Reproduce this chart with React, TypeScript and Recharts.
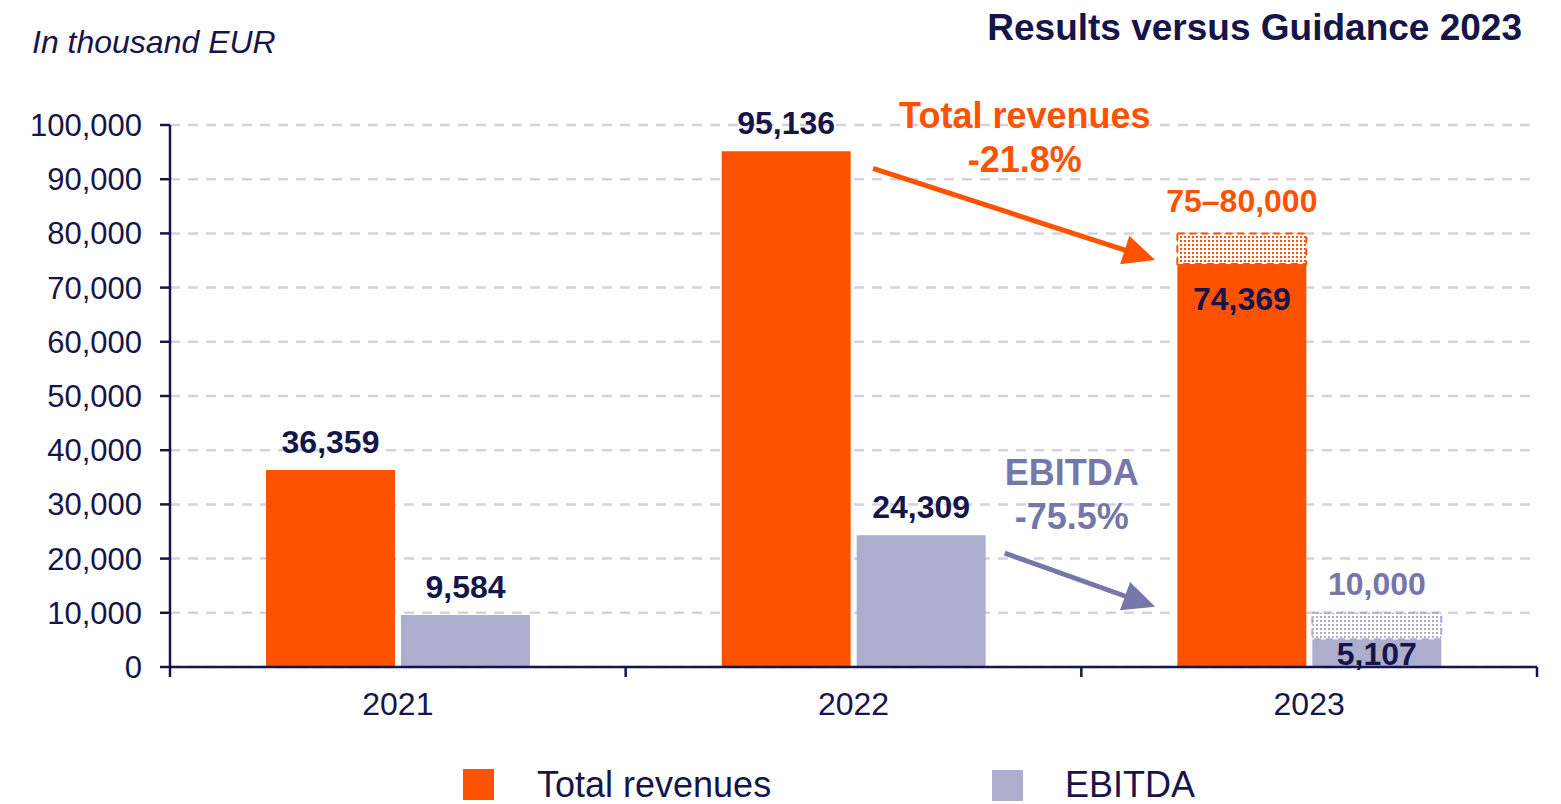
import {
  Bar,
  BarChart,
  CartesianGrid,
  LabelList,
  ReferenceLine,
  XAxis,
  YAxis,
} from "recharts";

const YEARS = ["2021", "2022", "2023"];
const REVENUES = [36359, 95136, 74369];
const EBITDA = [9584, 24309, 5107];
// upper end of the 2023 guidance range (0 = no guidance shown)
const REV_GUIDANCE = [0, 0, 80000];
const EBITDA_GUIDANCE = [0, 0, 10000];
const REV_GUIDANCE_LABELS = ["", "", "75–80,000"];
const EBITDA_GUIDANCE_LABELS = ["", "", "10,000"];
const Y_TICKS = [0, 10000, 20000, 30000, 40000, 50000, 60000, 70000, 80000, 90000, 100000];

// annotation positions: x in category units (2021 spans 0..1, 2022 1..2, 2023 2..3), y in EUR k
const REV_ARROW = { from: [1.543, 92000], to: [2.162, 75100] };
const EBITDA_ARROW = { from: [1.832, 21000], to: [2.162, 11100] };
const REV_NOTE = { at: [1.876, 99400], lines: ["Total revenues", "-21.8%"] };
const EBITDA_NOTE = { at: [1.979, 33600], lines: ["EBITDA", "-75.5%"] };

const NAVY = "#15154a";
const ORANGE = "#ff5200";
const LAVENDER = "#adadcd";
const PURPLE = "#7676a9";
const FONT = '"Liberation Sans", Arial, Helvetica, sans-serif';

const rows = YEARS.map((year, i) => ({
  year,
  rev: REVENUES[i],
  revGap: REV_GUIDANCE[i] ? REV_GUIDANCE[i] - REVENUES[i] : 0,
  revLabel: REV_GUIDANCE_LABELS[i],
  ebitda: EBITDA[i],
  ebitdaGap: EBITDA_GUIDANCE[i] ? EBITDA_GUIDANCE[i] - EBITDA[i] : 0,
  ebitdaLabel: EBITDA_GUIDANCE_LABELS[i],
}));

const fmt = (v: number) => v.toLocaleString("en-US");

// value label: above the bar, or inside when a guidance band sits on top
const valueLabel = (inside: "top" | "bottom") => (p: any) => {
  const { x, y, width, height, index, value } = p;
  let ty = y - 17;
  if (index === 2) ty = inside === "top" ? y + 46 : y + height - 2;
  return (
    <text
      x={x + width / 2}
      y={ty}
      textAnchor="middle"
      fill={NAVY}
      fontFamily={FONT}
      fontSize={32}
      fontWeight="bold"
    >
      {fmt(value)}
    </text>
  );
};

const guidanceLabel = (color: string, lift: number) => (p: any) => {
  const { x, y, width, value } = p;
  if (!value) return null;
  return (
    <text
      x={x + width / 2}
      y={y - lift}
      textAnchor="middle"
      fill={color}
      fontFamily={FONT}
      fontSize={32}
      fontWeight="bold"
    >
      {value}
    </text>
  );
};

// the reference segments run from the 2022 centre (1.5) to the 2023 centre (2.5)
const toPx = (x1: number, x2: number, pos: number) => x1 + (pos - 1.5) * (x2 - x1);

const arrow = (color: string, a: { from: number[]; to: number[] }) => (p: any) => {
  const sx = toPx(p.x1, p.x2, a.from[0]);
  const ex = toPx(p.x1, p.x2, a.to[0]);
  const sy = p.y1;
  const ey = p.y2;
  const dx = ex - sx;
  const dy = ey - sy;
  const len = Math.sqrt(dx * dx + dy * dy);
  const ux = dx / len;
  const uy = dy / len;
  const head = 32;
  const half = 15;
  const bx = ex - ux * head;
  const by = ey - uy * head;
  return (
    <g>
      <line x1={sx} y1={sy} x2={bx + ux * 2} y2={by + uy * 2} stroke={color} strokeWidth={5} />
      <polygon
        points={`${ex},${ey} ${bx - uy * half},${by + ux * half} ${bx + uy * half},${by - ux * half}`}
        fill={color}
      />
    </g>
  );
};

const note = (color: string, n: { at: number[]; lines: string[] }) => (p: any) => {
  const cx = toPx(p.x1, p.x2, n.at[0]);
  return (
    <text
      x={cx}
      y={p.y1}
      textAnchor="middle"
      fill={color}
      fontFamily={FONT}
      fontSize={36}
      fontWeight="bold"
    >
      {n.lines.map((l, i) => (
        <tspan key={l} x={cx} dy={i === 0 ? 0 : 44}>
          {l}
        </tspan>
      ))}
    </text>
  );
};

// year label in the band centre, tick marks on the band borders
const XTick = (p: any) => {
  const { x, y, payload, index, width } = p;
  const band = (width || 1367) / YEARS.length;
  const left = x - band / 2;
  return (
    <g>
      <line x1={left} y1={y} x2={left} y2={y + 10} stroke={NAVY} strokeWidth={2.5} />
      {index === YEARS.length - 1 && (
        <line x1={left + band} y1={y} x2={left + band} y2={y + 10} stroke={NAVY} strokeWidth={2.5} />
      )}
      <text x={x} y={y + 48} textAnchor="middle" fill={NAVY} fontFamily={FONT} fontSize={32}>
        {payload.value}
      </text>
    </g>
  );
};

export default function App() {
  return (
    <div
      style={{
        position: "absolute",
        left: 0,
        top: 0,
        width: 1561,
        height: 804,
        overflow: "hidden",
        background: "#fff",
      }}
    >
      <BarChart
        width={1561}
        height={804}
        data={rows}
        margin={{ top: 125, right: 24, left: 0, bottom: 77 }}
        barSize={129}
        barGap={6}
      >
        <defs>
          <pattern id="revDots" width="4" height="4" patternUnits="userSpaceOnUse">
            <rect width="4" height="4" fill="#fff" />
            <rect width="2" height="2" fill={ORANGE} />
          </pattern>
          <pattern id="ebitdaDots" width="4" height="4" patternUnits="userSpaceOnUse">
            <rect width="4" height="4" fill="#fff" />
            <rect width="2" height="2" fill={LAVENDER} />
          </pattern>
        </defs>
        <CartesianGrid vertical={false} stroke="#d3d3de" strokeWidth={2.5} strokeDasharray="10 8" />
        <XAxis
          dataKey="year"
          interval={0}
          height={60}
          tickSize={0}
          tickMargin={0}
          tickLine={false}
          axisLine={{ stroke: NAVY, strokeWidth: 2.5 }}
          tick={<XTick />}
        />
        <YAxis
          domain={[0, 100000]}
          ticks={Y_TICKS}
          interval={0}
          width={170}
          tickFormatter={fmt}
          tickSize={10}
          tickMargin={18}
          tick={{ fill: NAVY, fontSize: 31, fontFamily: FONT }}
          axisLine={{ stroke: NAVY, strokeWidth: 2.5 }}
          tickLine={{ stroke: NAVY, strokeWidth: 2.5 }}
        />
        <Bar dataKey="rev" stackId="rev" fill={ORANGE} isAnimationActive={false}>
          <LabelList dataKey="rev" content={valueLabel("top")} />
        </Bar>
        <Bar
          dataKey="revGap"
          stackId="rev"
          fill="url(#revDots)"
          stroke={ORANGE}
          strokeWidth={2}
          strokeDasharray="7 5"
          isAnimationActive={false}
        >
          <LabelList dataKey="revLabel" content={guidanceLabel(ORANGE, 21)} />
        </Bar>
        <Bar dataKey="ebitda" stackId="eb" fill={LAVENDER} isAnimationActive={false}>
          <LabelList dataKey="ebitda" content={valueLabel("bottom")} />
        </Bar>
        <Bar
          dataKey="ebitdaGap"
          stackId="eb"
          fill="url(#ebitdaDots)"
          stroke={LAVENDER}
          strokeWidth={2}
          strokeDasharray="7 5"
          isAnimationActive={false}
        >
          <LabelList dataKey="ebitdaLabel" content={guidanceLabel(PURPLE, 18)} />
        </Bar>
        <ReferenceLine
          segment={[
            { x: "2022", y: REV_ARROW.from[1] },
            { x: "2023", y: REV_ARROW.to[1] },
          ]}
          shape={arrow(ORANGE, REV_ARROW)}
        />
        <ReferenceLine
          segment={[
            { x: "2022", y: EBITDA_ARROW.from[1] },
            { x: "2023", y: EBITDA_ARROW.to[1] },
          ]}
          shape={arrow(PURPLE, EBITDA_ARROW)}
        />
        <ReferenceLine
          segment={[
            { x: "2022", y: REV_NOTE.at[1] },
            { x: "2023", y: REV_NOTE.at[1] },
          ]}
          shape={note(ORANGE, REV_NOTE)}
        />
        <ReferenceLine
          segment={[
            { x: "2022", y: EBITDA_NOTE.at[1] },
            { x: "2023", y: EBITDA_NOTE.at[1] },
          ]}
          shape={note(PURPLE, EBITDA_NOTE)}
        />
      </BarChart>
      <svg
        width={1561}
        height={804}
        style={{ position: "absolute", left: 0, top: 0, pointerEvents: "none" }}
      >
        <text x={32} y={53} fill={NAVY} fontFamily={FONT} fontSize={32} fontStyle="italic">
          In thousand EUR
        </text>
        <text
          x={1522}
          y={40}
          textAnchor="end"
          fill={NAVY}
          fontFamily={FONT}
          fontSize={37}
          fontWeight="bold"
        >
          Results versus Guidance 2023
        </text>
        <rect x={463} y={769} width={31} height={31} fill={ORANGE} />
        <text x={537} y={797} fill={NAVY} fontFamily={FONT} fontSize={36}>
          Total revenues
        </text>
        <rect x={992} y={770} width={31} height={31} fill={LAVENDER} />
        <text x={1065} y={797} fill={NAVY} fontFamily={FONT} fontSize={36}>
          EBITDA
        </text>
      </svg>
    </div>
  );
}
